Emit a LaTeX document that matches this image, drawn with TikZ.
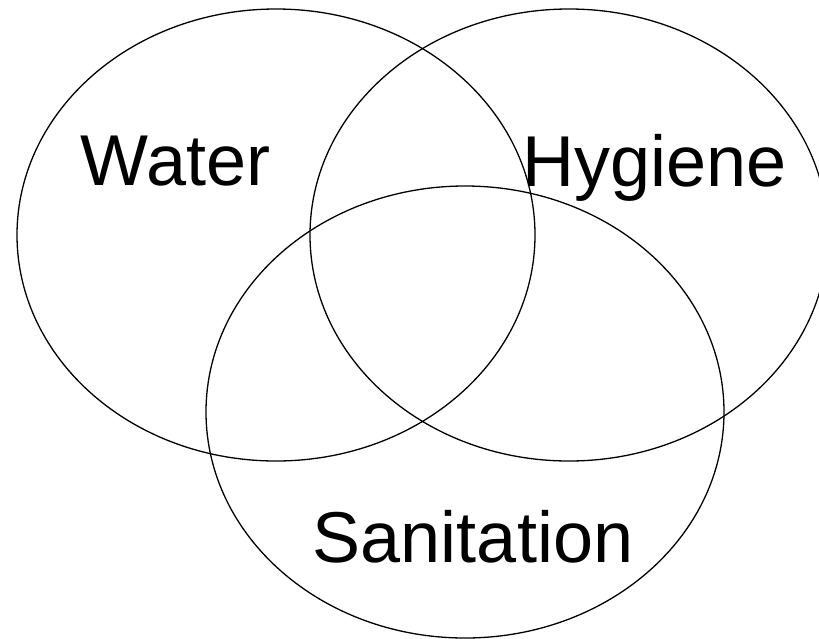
\documentclass[tikz,border=0pt]{standalone}
\usepackage{fontspec}
\setmainfont{Liberation Sans}
\usetikzlibrary{shapes.geometric}
\begin{document}
\begin{tikzpicture}[x=1pt,y=-1pt,
  venn/.style={ellipse,draw=black,line width=1.3pt,inner sep=0pt,outer sep=0pt,minimum width=518pt,minimum height=452pt},
  lbl/.style={anchor=base,font=\fontsize{72}{80}\selectfont,inner sep=0pt}]
\useasboundingbox (0,0) rectangle (819,638);
\node[venn] (water) at (276,235) {};
\node[venn] (hygiene) at (569,235) {};
\node[venn] (sanitation) at (465,412) {};
\node[lbl] (tw) at (175.5,185) {Water};
\node[lbl] (th) at (655,186) {Hygiene};
\node[lbl] (ts) at (473,562) {Sanitation};
\end{tikzpicture}
\end{document}
